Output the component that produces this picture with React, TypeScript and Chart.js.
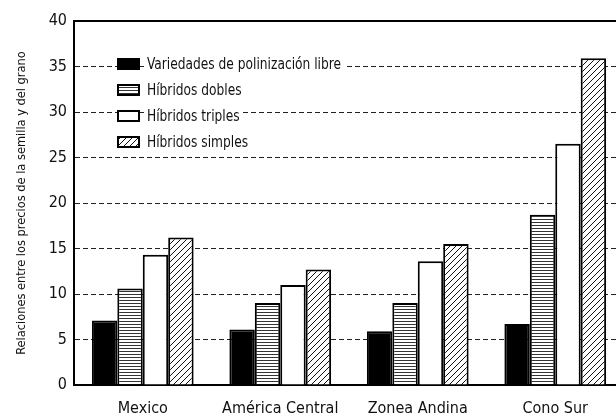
import React, { useEffect, useRef } from "react";
import { Chart, registerables } from "chart.js";

Chart.register(...registerables);

const categories = ["Mexico", "América Central", "Zonea Andina", "Cono Sur"];
const seriesNames = [
  "Variedades de polinización libre",
  "Híbridos dobles",
  "Híbridos triples",
  "Híbridos simples",
];
const libre = [7.1, 6.1, 5.9, 6.7];
const dobles = [10.6, 9.0, 9.0, 18.7];
const triples = [14.3, 11.0, 13.6, 26.5];
const simples = [16.2, 12.7, 15.5, 35.9];
const yTitle = "Relaciones entre los precios de la semilla y del grano";
const yMin = 0;
const yMax = 40;
const yStep = 5;

const FONT = "'Liberation Sans Narrow', 'DejaVu Sans Condensed', 'Arial Narrow', sans-serif";

function makeHorizontalPattern(): CanvasPattern | string {
  const c = document.createElement("canvas");
  c.width = 6;
  c.height = 3;
  const g = c.getContext("2d");
  if (!g) return "#888";
  g.fillStyle = "#ffffff";
  g.fillRect(0, 0, 6, 3);
  g.fillStyle = "#333333";
  g.fillRect(0, 0, 6, 1);
  return g.createPattern(c, "repeat") || "#888";
}

function makeDiagonalPattern(): CanvasPattern | string {
  const n = 6;
  const c = document.createElement("canvas");
  c.width = n;
  c.height = n;
  const g = c.getContext("2d");
  if (!g) return "#888";
  g.fillStyle = "#ffffff";
  g.fillRect(0, 0, n, n);
  g.fillStyle = "#111111";
  for (let i = 0; i < n; i++) g.fillRect(i, n - 1 - i, 1, 1);
  return g.createPattern(c, "repeat") || "#888";
}

const legendPlugin = {
  id: "insideLegend",
  afterDraw(chart: any) {
    const ctx = chart.ctx as CanvasRenderingContext2D;
    const boxX = 117;
    const boxW = 23;
    const boxH = 12;
    const firstY = 64;
    const rowGap = 26;
    const textX = 147;
    const squeeze = 0.85;
    ctx.save();
    ctx.font = `16px ${FONT}`;
    ctx.textBaseline = "middle";
    chart.data.datasets.forEach((ds: any, i: number) => {
      const cy = firstY + i * rowGap;
      ctx.fillStyle = ds.backgroundColor;
      ctx.fillRect(boxX, cy - boxH / 2, boxW, boxH);
      ctx.lineWidth = 2;
      ctx.strokeStyle = "#000";
      ctx.strokeRect(boxX + 1, cy - boxH / 2 + 1, boxW - 2, boxH - 2);
      const w = ctx.measureText(ds.label).width * squeeze;
      ctx.fillStyle = "#fff";
      ctx.fillRect(textX - 1, cy - 4, w + 4, 8);
      ctx.save();
      ctx.translate(textX, cy + 1);
      ctx.scale(squeeze, 1);
      ctx.fillStyle = "#111";
      ctx.fillText(ds.label, 0, 0);
      ctx.restore();
    });
    ctx.restore();
  },
};

const frameTopPlugin = {
  id: "frameTop",
  afterDraw(chart: any) {
    const ctx = chart.ctx as CanvasRenderingContext2D;
    const y = Math.round(chart.scales.y.getPixelForValue(yMax));
    ctx.save();
    ctx.strokeStyle = "#000";
    ctx.lineWidth = 2;
    ctx.beginPath();
    ctx.moveTo(chart.chartArea.left - 1, y);
    ctx.lineTo(chart.width, y);
    ctx.stroke();
    ctx.restore();
  },
};

export default function App() {
  const ref = useRef<HTMLCanvasElement | null>(null);

  useEffect(() => {
    if (!ref.current) return;
    const hPat = makeHorizontalPattern();
    const dPat = makeDiagonalPattern();
    const fills = ["#000000", hPat, "#ffffff", dPat];
    const values = [libre, dobles, triples, simples];
    const chart = new Chart(ref.current, {
      type: "bar",
      data: {
        labels: categories,
        datasets: values.map((v, i) => ({
          label: seriesNames[i],
          data: v,
          backgroundColor: fills[i] as any,
          borderColor: "#000",
          borderWidth: 2,
          categoryPercentage: 0.74,
          barPercentage: 1,
        })),
      },
      options: {
        responsive: false,
        animation: false,
        layout: { padding: { top: 21, left: 0, right: 0, bottom: 0 } },
        plugins: {
          legend: { display: false },
          tooltip: { enabled: false },
        },
        scales: {
          x: {
            grid: { display: false, drawTicks: false },
            border: { display: true, width: 2, color: "#000" },
            ticks: {
              font: { family: FONT, size: 16 },
              color: "#111",
              padding: 14,
              maxRotation: 0,
              autoSkip: false,
            },
            afterFit: (s: any) => {
              s.height = 31;
            },
          },
          y: {
            min: yMin,
            max: yMax,
            ticks: {
              stepSize: yStep,
              font: { family: FONT, size: 16 },
              color: "#111",
              padding: 7,
            },
            grid: {
              drawTicks: false,
              lineWidth: 1,
              color: (c: any) =>
                c.tick && (c.tick.value === yMin || c.tick.value === yMax) ? "rgba(0,0,0,0)" : "#222",
            },
            border: { display: true, width: 2, color: "#000", dash: [5, 3] },
            title: {
              display: true,
              text: yTitle,
              font: { family: FONT, size: 12.7 },
              color: "#111",
              padding: { top: 14, bottom: 0 },
            },
            afterFit: (s: any) => {
              s.width = 74;
            },
          },
        },
      },
      plugins: [legendPlugin, frameTopPlugin],
    });
    return () => chart.destroy();
  }, []);

  return (
    <div
      style={{
        position: "fixed",
        left: 0,
        top: 0,
        width: 616,
        height: 416,
        overflow: "hidden",
        background: "#fff",
      }}
    >
      <canvas ref={ref} width={624} height={416} style={{ display: "block" }} />
    </div>
  );
}
